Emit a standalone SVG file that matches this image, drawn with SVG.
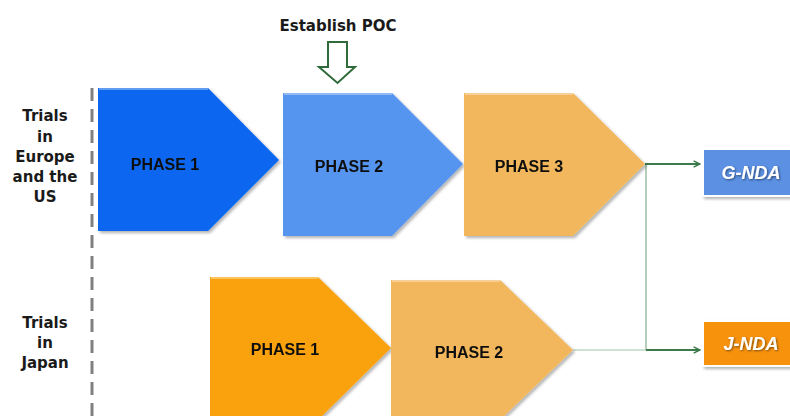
<svg xmlns="http://www.w3.org/2000/svg" width="790" height="416" viewBox="0 0 790 416">
<defs>
<style>
.lbl{font-family:"DejaVu Sans","Liberation Sans",sans-serif;font-weight:bold;font-size:15px;fill:#1a1a1a;text-anchor:middle}
.ph{font-family:"Liberation Sans",Arial,sans-serif;font-weight:bold;font-size:16px;fill:#111;text-anchor:middle}
.nda{font-family:"Liberation Sans",Arial,sans-serif;font-weight:bold;font-style:italic;font-size:18px;fill:#fff;text-anchor:middle}
.hl{fill:none;stroke:#fff;stroke-opacity:0.35;stroke-width:2}
</style>
<filter id="sh" x="-10%" y="-10%" width="130%" height="130%">
<feGaussianBlur in="SourceAlpha" stdDeviation="1.5"/>
<feOffset dx="2" dy="2"/>
<feComponentTransfer><feFuncA type="linear" slope="0.3"/></feComponentTransfer>
<feMerge><feMergeNode/><feMergeNode in="SourceGraphic"/></feMerge>
</filter>
<filter id="tsh" x="-10%" y="-20%" width="130%" height="150%">
<feGaussianBlur in="SourceAlpha" stdDeviation="1"/>
<feOffset dx="1" dy="1"/>
<feComponentTransfer><feFuncA type="linear" slope="0.5"/></feComponentTransfer>
<feMerge><feMergeNode/><feMergeNode in="SourceGraphic"/></feMerge>
</filter>
<marker id="arr" viewBox="0 0 10 10" refX="9" refY="5" markerWidth="8" markerHeight="8" markerUnits="userSpaceOnUse" orient="auto">
<path d="M1,1 L9,5 L1,9" fill="none" stroke="#3b7a4b" stroke-width="1.8"/>
</marker>
</defs>

<line x1="92" y1="88" x2="92" y2="416" stroke="#808080" stroke-width="3" stroke-dasharray="13 8"/>

<g id="label-eu">
<text class="lbl" x="45" y="121">Trials</text>
<text class="lbl" x="45" y="142">in</text>
<text class="lbl" x="45" y="162">Europe</text>
<text class="lbl" x="45" y="182">and the</text>
<text class="lbl" x="45" y="202">US</text>
</g>
<g id="label-jp">
<text class="lbl" x="45" y="328">Trials</text>
<text class="lbl" x="45" y="348">in</text>
<text class="lbl" x="45" y="368">Japan</text>
</g>

<g id="poc">
<text class="lbl" x="338" y="31">Establish POC</text>
<path d="M328,42 H347 V67 H355 L337.5,83 L319,67 H328 Z" fill="#fff" stroke="#2f6b3a" stroke-width="2"/>
</g>

<g id="connectors">
<line x1="573" y1="350" x2="646" y2="350" stroke="#cfe0d4" stroke-width="2"/>
<line x1="646" y1="164" x2="646" y2="350" stroke="#9bbea5" stroke-width="1.5"/>
<line x1="645" y1="164" x2="700" y2="164" stroke="#3b7a4b" stroke-width="2" marker-end="url(#arr)"/>
<line x1="646" y1="350" x2="700" y2="350" stroke="#3b7a4b" stroke-width="2" marker-end="url(#arr)"/>
</g>

<g id="eu-phase1" filter="url(#sh)">
<path d="M98,88 H208 L279,160 L208,231 H98 Z" fill="#0b66ef"/>
<path class="hl" d="M99,89 H208"/>
<text class="ph" x="165" y="170">PHASE 1</text>
</g>
<g id="eu-phase2" filter="url(#sh)">
<path d="M283,93 H392 L463,164 L392,236 H283 Z" fill="#5695ef"/>
<path class="hl" d="M284,94 H392"/>
<text class="ph" x="349" y="172">PHASE 2</text>
</g>
<g id="eu-phase3" filter="url(#sh)">
<path d="M464,93 H573 L645,164 L573,236 H464 Z" fill="#f2b75b"/>
<path class="hl" d="M465,94 H573"/>
<text class="ph" x="529" y="172">PHASE 3</text>
</g>

<g id="jp-phase1" filter="url(#sh)">
<path d="M210,277 H318 L391,348 L318,420 H210 Z" fill="#f9a20c"/>
<path class="hl" d="M211,278 H318"/>
<text class="ph" x="285" y="355">PHASE 1</text>
</g>
<g id="jp-phase2" filter="url(#sh)">
<path d="M391,280 H500 L573,350 L500,420 H391 Z" fill="#f2b75b"/>
<path class="hl" d="M392,281 H500"/>
<text class="ph" x="469" y="358">PHASE 2</text>
</g>

<g id="g-nda" filter="url(#sh)">
<rect x="703" y="149" width="95" height="47" fill="#5b90e2" stroke="#fff" stroke-width="2"/>
<text class="nda" x="751" y="179" filter="url(#tsh)">G-NDA</text>
</g>
<g id="j-nda" filter="url(#sh)">
<rect x="703" y="321" width="95" height="45" fill="#f7920b" stroke="#fff" stroke-width="2"/>
<text class="nda" x="751" y="350" filter="url(#tsh)">J-NDA</text>
</g>
</svg>
